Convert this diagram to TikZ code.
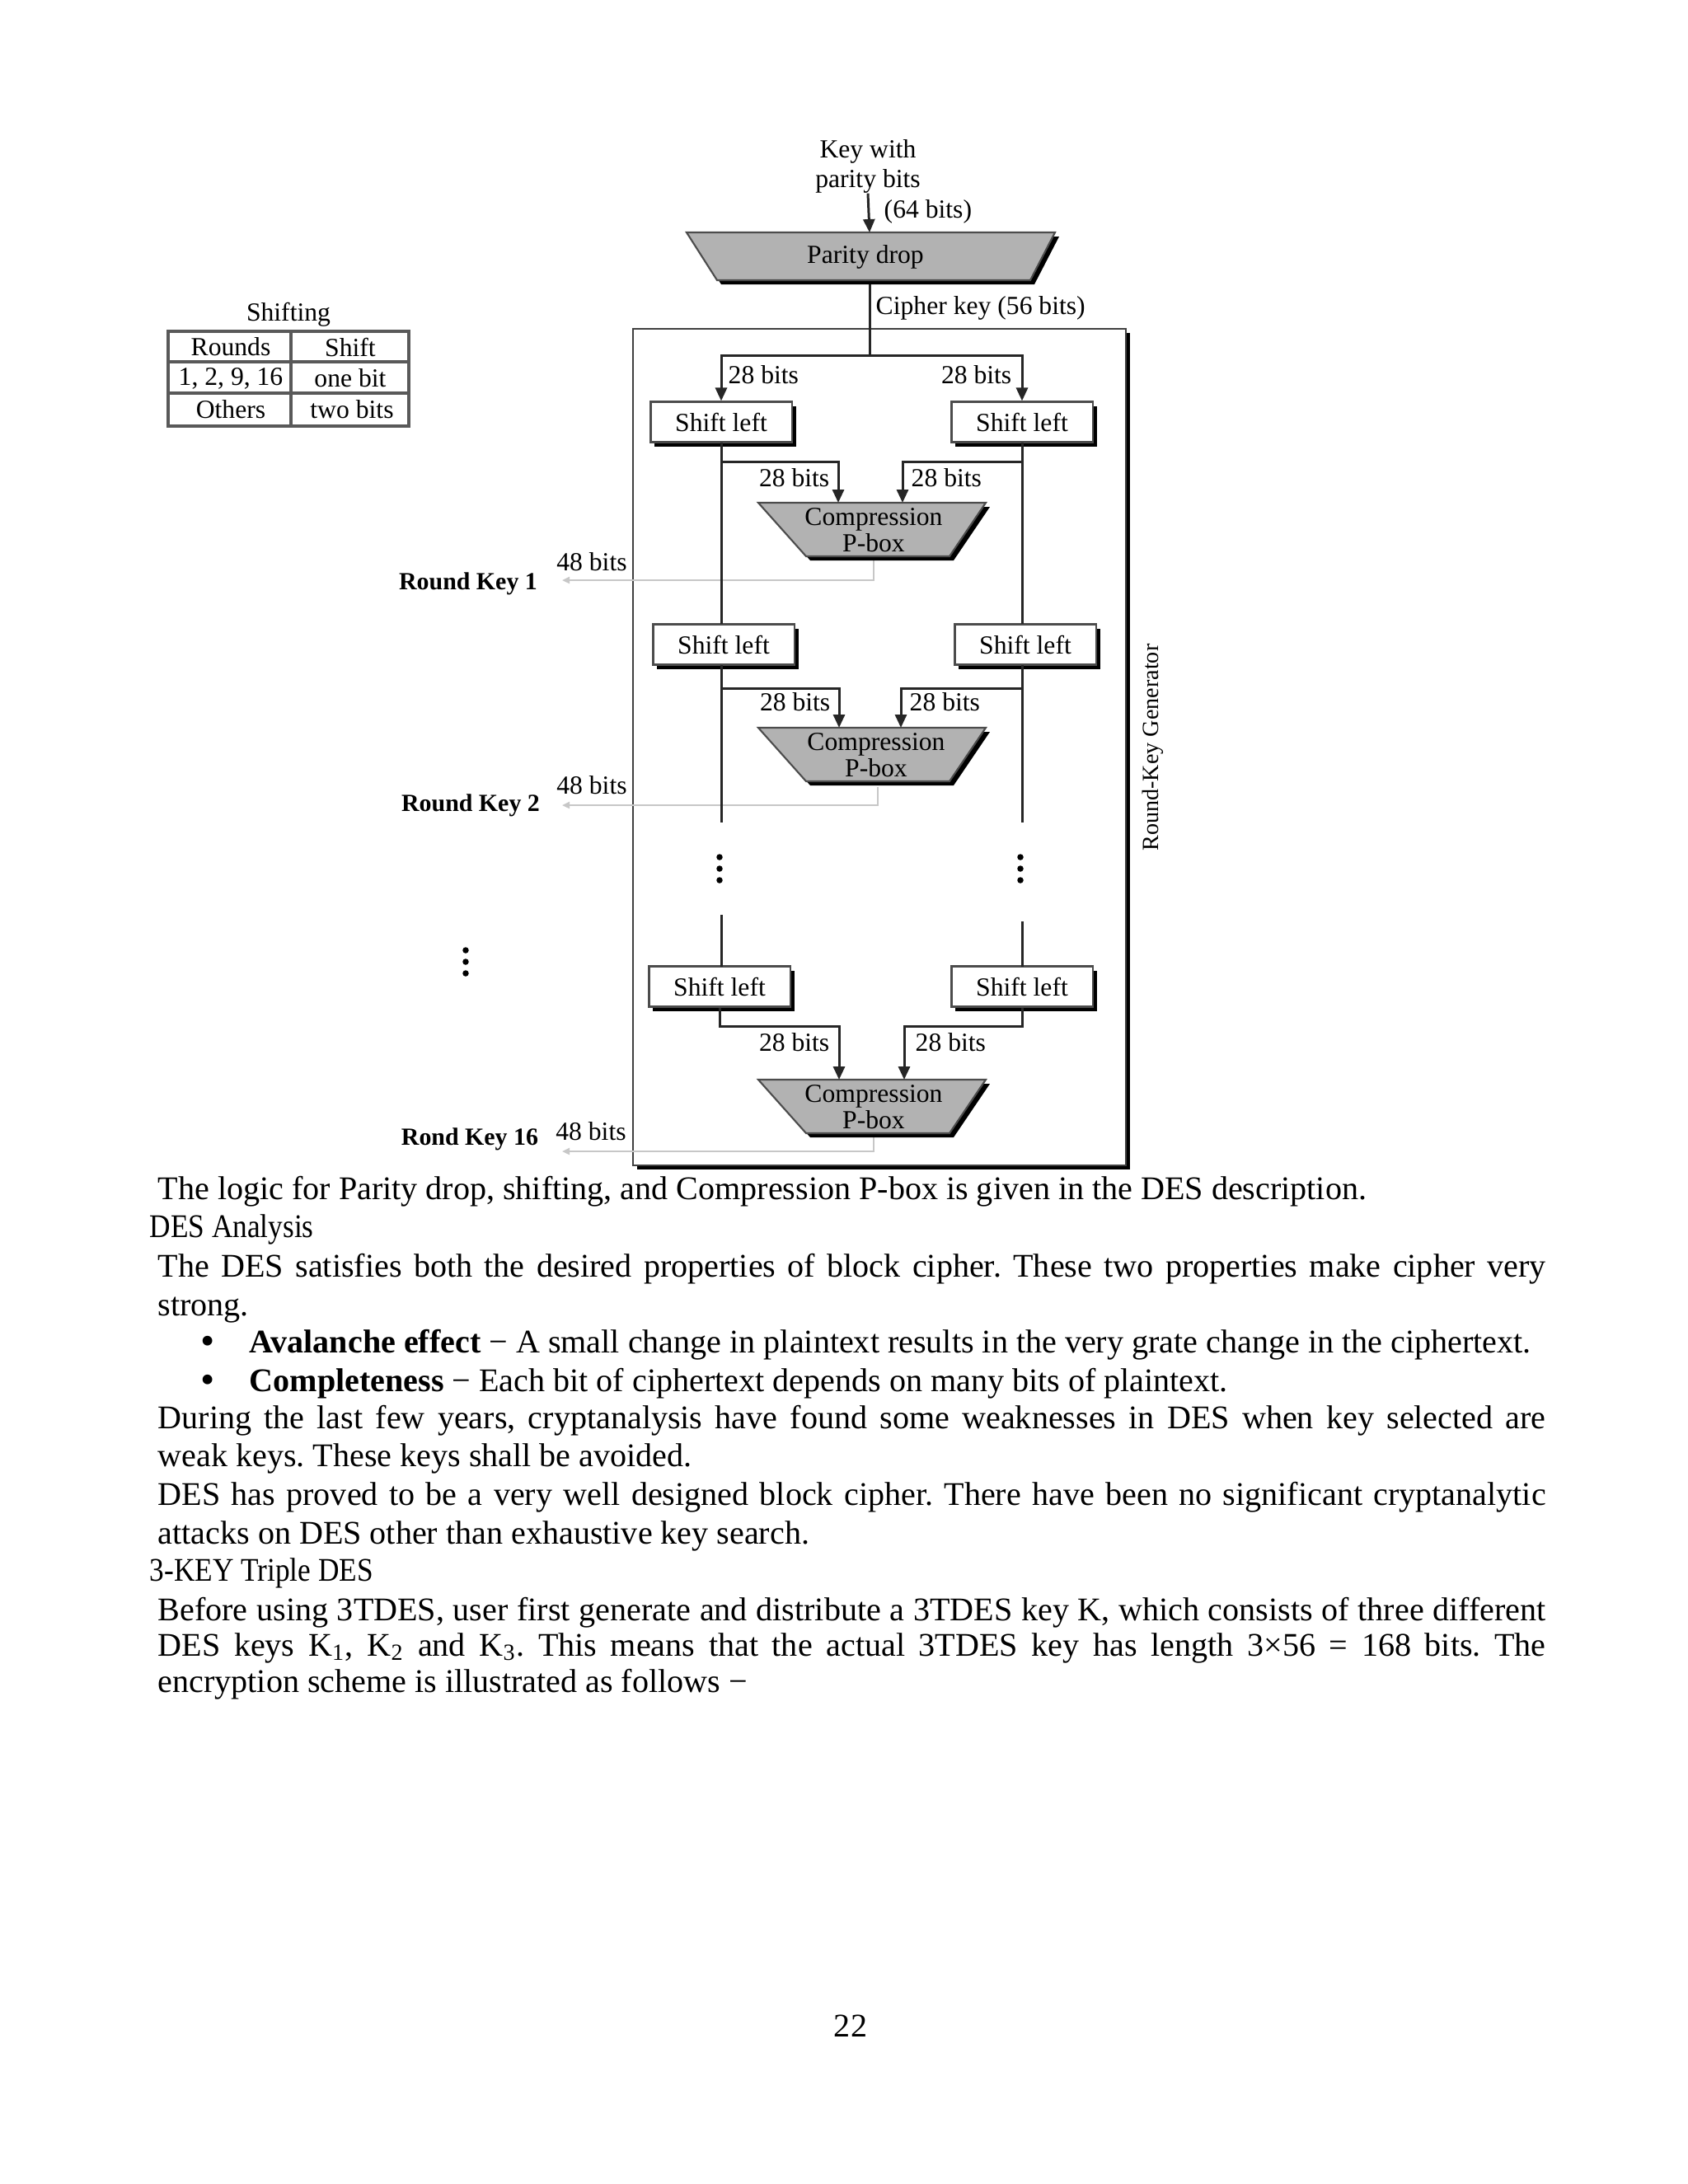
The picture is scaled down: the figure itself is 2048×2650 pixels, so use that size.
\documentclass[tikz,border=0pt]{standalone}
\usepackage{fontspec}
\setmainfont{Liberation Serif}
\usepackage{graphicx}
\usetikzlibrary{arrows.meta,shadows}
\frenchspacing
\newcommand\dfont{\fontsize{9}{10}\selectfont}
\newcommand\bodyfnt{\fontsize{11.4}{13}\selectfont}
\newcommand\comptrap[1]{%
  \fill[black] (925,#1+5) -- (1201,#1+5) -- (1157,#1+70) -- (983,#1+70) -- cycle;
  \filldraw[fill=pgray, draw=black!70, line width=0.6pt] (920,#1) -- (1196,#1) -- (1152,#1+65) -- (978,#1+65) -- cycle;}
\definecolor{pgray}{RGB}{178,178,178}
\begin{document}
\begin{tikzpicture}[x=0.01cm,y=-0.01cm,
  ln/.style={draw=black!85, line width=0.85pt},
  arr/.style={ln, -{Triangle[length=0.16cm,width=0.14cm]}},
  rkline/.style={draw=black!22, line width=0.6pt, -{Triangle[length=0.09cm,width=0.08cm]}},
  lbl/.style={font=\dfont, inner sep=0pt},
  sbox/.style={draw=black!70, line width=0.6pt, fill=white, minimum width=1.71cm, minimum height=0.49cm, font=\dfont, inner sep=0pt,
    drop shadow={shadow xshift=0.05cm, shadow yshift=-0.055cm, fill=black, opacity=1}},
  rkey/.style={font=\fontsize{8.5}{9}\selectfont\bfseries, inner sep=0pt},
  body/.style={font=\bodyfnt, inner sep=0pt, anchor=base west},
  bull/.style={font=\fontsize{14}{14}\selectfont, inner sep=0pt, anchor=base, text height=0.2cm, text depth=0cm},
  dotn/.style={circle, fill=black, inner sep=0pt, minimum size=0.075cm},
  tline/.style={draw=black!65, line width=0.9pt},
]
\fill[white] (0,0) rectangle (2048,2650);
\useasboundingbox (0,0) rectangle (2048,2650);

% ---------- Shifting table ----------
\node[lbl] (shtitle) at (350,382) {Shifting};
\draw[tline] (204,402) rectangle (496,517);
\draw[tline] (204,439) -- (496,439);
\draw[tline] (204,477) -- (496,477);
\draw[tline] (353,402) -- (353,517);
\node[lbl] (t11) at (280,421) {Rounds};
\node[lbl] (t12) at (425,421) {Shift};
\node[lbl] (t21) at (280,459) {1, 2, 9, 16};
\node[lbl] (t22) at (425,459) {one bit};
\node[lbl] (t31) at (280,497) {Others};
\node[lbl] (t32) at (427,497) {two bits};

% ---------- outer box ----------
\fill[black] (773,404) rectangle (1371,1419);
\filldraw[fill=white, draw=black!75, line width=0.7pt] (768,399) rectangle (1366,1414);
\node[font=\fontsize{8}{8}\selectfont, rotate=90, inner sep=0pt] (rkg) at (1399,907) {Round-Key Generator};

% ---------- key input and parity drop ----------
\node[lbl, align=center] (keyin) at (1053,202) {Key with\\parity bits};
\fill[black] (838,287) -- (1285,287) -- (1255,345) -- (875,345) -- cycle;
\filldraw[fill=pgray, draw=black!70, line width=0.6pt] (833,282) -- (1280,282) -- (1250,340) -- (870,340) -- cycle;
\node[lbl] (pd) at (1050,312) {Parity drop};
\coordinate (pdin) at (1055,282);
\coordinate (pdout) at (1055,345);
\draw[arr] (keyin.south) -- (pdin);
\node[lbl, anchor=west] (k64) at (1072,257) {(64 bits)};
\node[lbl, anchor=west] (ck) at (1062,374) {Cipher key (56 bits)};

% ---------- round-key gray lines (behind) ----------
\coordinate (c1out) at (1060,680);
\coordinate (c2out) at (1065,955);
\coordinate (c3out) at (1060,1380);
\coordinate (rk1tip) at (682,704);
\coordinate (rk2tip) at (682,977);
\coordinate (rk3tip) at (682,1397);
\draw[rkline] (c1out) |- (rk1tip);
\draw[rkline] (c2out) |- (rk2tip);
\draw[rkline] (c3out) |- (rk3tip);
\node[rkey] (rk1) at (568,708) {Round Key 1};
\node[rkey] (rk2) at (571,977) {Round Key 2};
\node[rkey] (rk16) at (570,1382) {Rond Key 16};
\node[lbl] (b48a) at (718,682) {48 bits};
\node[lbl] (b48b) at (718,953) {48 bits};
\node[lbl] (b48c) at (717,1373) {48 bits};

% ---------- shift boxes ----------
\node[sbox] (s1l) at (875,512) {Shift left};
\node[sbox] (s1r) at (1240,512) {Shift left};
\node[sbox] (s2l) at (878,782) {Shift left};
\node[sbox] (s2r) at (1244,782) {Shift left};
\node[sbox] (s3l) at (873,1197) {Shift left};
\node[sbox] (s3r) at (1240,1197) {Shift left};

% ---------- cipher key split ----------
\coordinate (split) at (1055,431);
\draw[ln] (pdout) -- (split);
\draw[arr] (split) -| (s1l.north);
\draw[arr] (split) -| (s1r.north);
\node[lbl, anchor=west] (l28a) at (883,455) {28 bits};
\node[lbl, anchor=east] (l28b) at (1228,455) {28 bits};

% ---------- vertical lines ----------
\coordinate (e2l) at (875,998);
\coordinate (e2r) at (1240,998);
\coordinate (r3l) at (875,1110);
\coordinate (r3r) at (1240,1118);
\draw[ln] (875,537) -- (875,757);
\draw[ln] (1240,537) -- (1240,757);
\draw[ln] (875,807) -- (e2l);
\draw[ln] (1240,807) -- (e2r);
\draw[ln] (r3l) -- (875,1173);
\draw[ln] (r3r) -- (1240,1173);

% ---------- compression boxes ----------
\comptrap{610}
\comptrap{883}
\comptrap{1310}
\node[lbl, align=center, font=\fontsize{9}{9}\selectfont] (c1) at (1060,643) {Compression\\P-box};
\node[lbl, align=center, font=\fontsize{9}{9}\selectfont] (c2) at (1063,916) {Compression\\P-box};
\node[lbl, align=center, font=\fontsize{9}{9}\selectfont] (c3) at (1060,1343) {Compression\\P-box};

% ---------- branches ----------
\coordinate (b1l) at (875,560);
\coordinate (b1r) at (1240,560);
\coordinate (c1tl) at (1017,610);
\coordinate (c1tr) at (1095,610);
\draw[arr] (b1l) -| (c1tl);
\draw[arr] (b1r) -| (c1tr);
\node[lbl, anchor=east] (l28c) at (1007,580) {28 bits};
\node[lbl, anchor=west] (l28d) at (1105,580) {28 bits};

\coordinate (b2l) at (875,835);
\coordinate (b2r) at (1240,835);
\coordinate (c2tl) at (1018,883);
\coordinate (c2tr) at (1093,883);
\draw[arr] (b2l) -| (c2tl);
\draw[arr] (b2r) -| (c2tr);
\node[lbl, anchor=east] (l28e) at (1008,852) {28 bits};
\node[lbl, anchor=west] (l28f) at (1103,852) {28 bits};

\coordinate (b3l) at (873,1245);
\coordinate (b3r) at (1240,1245);
\coordinate (c3tl) at (1018,1310);
\coordinate (c3tr) at (1097,1310);
\draw[arr] (s3l.south) -- (b3l) -| (c3tl);
\draw[arr] (s3r.south) -- (b3r) -| (c3tr);
\node[lbl, anchor=east] (l28g) at (1007,1265) {28 bits};
\node[lbl, anchor=west] (l28h) at (1110,1265) {28 bits};

% ---------- dots ----------
\foreach \yy/\nm in {1040/a,1054/b,1068/c} {
  \node[dotn] (dl\nm) at (873,\yy) {};
  \node[dotn] (dr\nm) at (1238,\yy) {};
}
\foreach \yy/\nm in {1153/a,1167/b,1181/c} {
  \node[dotn] (do\nm) at (565,\yy) {};
}

% ---------- body text ----------
\node[body] (p1) at (191,1455) {The logic for Parity drop, shifting, and Compression P-box is given in the DES description.};
\node[body] (h1) at (181,1501) {\scalebox{0.88}[1]{DES Analysis}};
\node[body] (p2a) at (191,1549) {\makebox[16.83cm][s]{The DES satisfies both the desired properties of block cipher. These two properties make cipher very}};
\node[body] (p2b) at (191,1596) {strong.};
\node[bull] (bu1) at (252,1643) {•};
\node[body] (p3) at (302,1641) {\textbf{Avalanche effect} − A small change in plaintext results in the very grate change in the ciphertext.};
\node[bull] (bu2) at (252,1690) {•};
\node[body] (p4) at (302,1688) {\textbf{Completeness} − Each bit of ciphertext depends on many bits of plaintext.};
\node[body] (p5a) at (191,1733) {\makebox[16.83cm][s]{During the last few years, cryptanalysis have found some weaknesses in DES when key selected are}};
\node[body] (p5b) at (191,1779) {weak keys. These keys shall be avoided.};
\node[body] (p6a) at (191,1826) {\makebox[16.83cm][s]{DES has proved to be a very well designed block cipher. There have been no significant cryptanalytic}};
\node[body] (p6b) at (191,1873) {attacks on DES other than exhaustive key search.};
\node[body] (h2) at (181,1918) {\scalebox{0.88}[1]{3-KEY Triple DES}};
\node[body] (p7a) at (191,1966) {\makebox[16.83cm][s]{Before using 3TDES, user first generate and distribute a 3TDES key K, which consists of three different}};
\node[body] (p7b) at (191,2009) {\makebox[16.83cm][s]{DES keys K\textsubscript{1}, K\textsubscript{2} and K\textsubscript{3}. This means that the actual 3TDES key has length 3×56 = 168 bits. The}};
\node[body] (p7c) at (191,2053) {encryption scheme is illustrated as follows −};
\node[body, anchor=base] (pg) at (1032,2471) {22};
\end{tikzpicture}
\end{document}
